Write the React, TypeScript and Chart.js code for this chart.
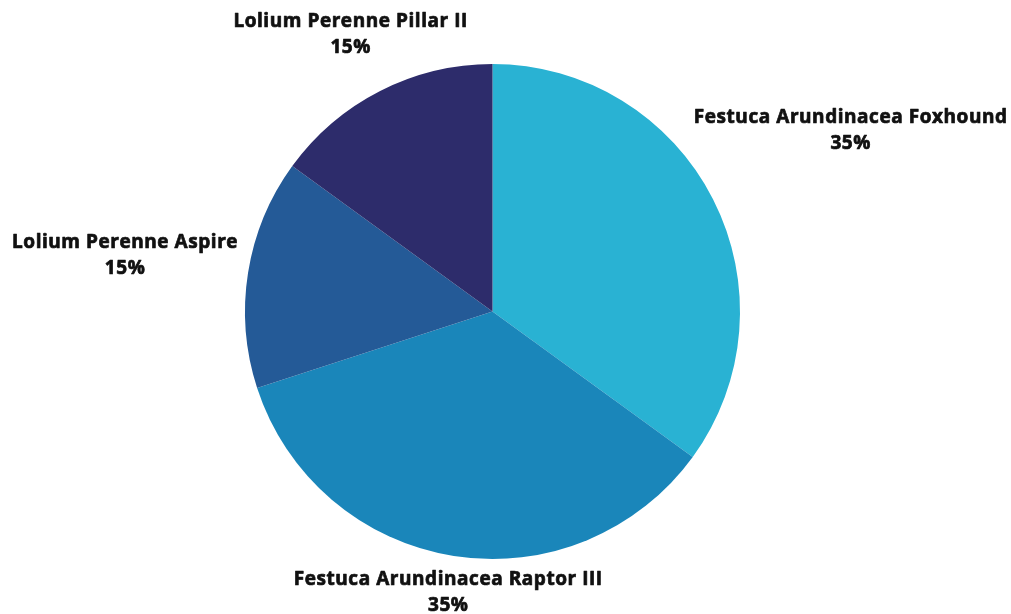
import React, { useEffect, useRef } from "react";
import { Chart, registerables } from "chart.js";

Chart.register(...registerables);

const categories = [
  "Festuca Arundinacea Foxhound",
  "Festuca Arundinacea Raptor III",
  "Lolium Perenne Aspire",
  "Lolium Perenne Pillar II",
];
const shares = [35, 35, 15, 15];
const sliceColors = ["#29B2D3", "#1A86BA", "#245A97", "#2D2C6B"];

const FONT = 'bold 19px "Open Sans"';

const outerLabels = {
  id: "outerLabels",
  afterDraw(chart: any) {
    const ctx = chart.ctx;
    const meta = chart.getDatasetMeta(0);
    ctx.save();
    ctx.font = FONT;
    (ctx as any).letterSpacing = "0.55px";
    ctx.fillStyle = "#111111";
    ctx.strokeStyle = "#111111";
    ctx.lineWidth = 0.7;
    ctx.lineJoin = "round";
    ctx.textAlign = "center";
    ctx.textBaseline = "middle";
    meta.data.forEach((arc: any, i: number) => {
      const { x, y, startAngle, endAngle, outerRadius } = arc.getProps(
        ["x", "y", "startAngle", "endAngle", "outerRadius"],
        true
      );
      const mid = (startAngle + endAngle) / 2;
      const dx = Math.cos(mid);
      const dy = Math.sin(mid);
      const l1 = categories[i];
      const l2 = shares[i] + "%";
      const w = Math.max(ctx.measureText(l1).width, ctx.measureText(l2).width);
      const hw = w / 2;
      const hh = 23;
      const gap = 9;
      let d = outerRadius;
      for (; d < outerRadius + 400; d += 0.5) {
        const cx = x + dx * d;
        const cy = y + dy * d;
        const nx = Math.max(cx - hw, Math.min(x, cx + hw));
        const ny = Math.max(cy - hh, Math.min(y, cy + hh));
        if (Math.hypot(nx - x, ny - y) >= outerRadius + gap) break;
      }
      const cx = x + dx * d;
      const cy = y + dy * d;
      ctx.fillText(l1, cx, cy - 11);
      ctx.strokeText(l1, cx, cy - 11);
      ctx.fillText(l2, cx, cy + 15);
      ctx.strokeText(l2, cx, cy + 15);
    });
    ctx.restore();
  },
};

export default function App() {
  const ref = useRef<HTMLCanvasElement>(null);
  useEffect(() => {
    const chart = new Chart(ref.current!, {
      type: "pie",
      data: {
        labels: categories,
        datasets: [
          {
            data: shares,
            backgroundColor: sliceColors,
            borderWidth: 0,
          },
        ],
      },
      options: {
        animation: false,
        responsive: true,
        maintainAspectRatio: false,
        layout: { padding: { left: 245, right: 271, top: 64, bottom: 55 } },
        plugins: {
          legend: { display: false },
          tooltip: { enabled: false },
        },
      },
      plugins: [outerLabels],
    });
    return () => chart.destroy();
  }, []);
  return (
    <div
      style={{
        position: "fixed",
        left: 0,
        top: 0,
        width: 1011,
        height: 614,
        background: "#ffffff",
      }}
    >
      <canvas ref={ref} />
    </div>
  );
}
